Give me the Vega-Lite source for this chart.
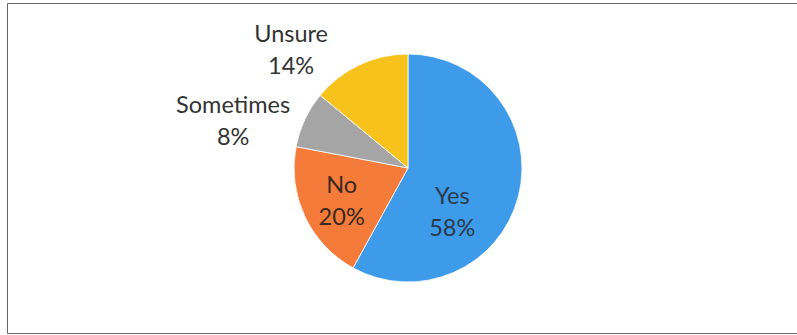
{
  "$schema": "https://vega.github.io/schema/vega-lite/v6.json",
  "width": 790,
  "height": 330,
  "autosize": {"type": "none"},
  "padding": {"left": 7, "top": 3, "right": 0, "bottom": 2},
  "background": "white",
  "view": {"stroke": "#666666", "strokeWidth": 1},
  "data": {
    "values": [
      {"category": "Yes", "value": 58, "order": 1},
      {"category": "No", "value": 20, "order": 2},
      {"category": "Sometimes", "value": 8, "order": 3},
      {"category": "Unsure", "value": 14, "order": 4}
    ]
  },
  "transform": [
    {"stack": "value", "groupby": [], "sort": [{"field": "order", "order": "ascending"}], "as": ["v0", "v1"]},
    {"calculate": "(datum.v0 + datum.v1) / 2", "as": "mid"},
    {"calculate": "datum.category + '\\n' + datum.value + '%'", "as": "label"}
  ],
  "encoding": {
    "color": {
      "field": "category",
      "type": "nominal",
      "scale": {
        "domain": ["Yes", "No", "Sometimes", "Unsure"],
        "range": ["#3d9be9", "#f47b3a", "#a5a5a5", "#f8c21c"]
      },
      "legend": null
    }
  },
  "layer": [
    {
      "mark": {"type": "arc", "outerRadius": 114, "xOffset": 6, "stroke": "#ffffff", "strokeWidth": 0.8},
      "encoding": {
        "theta": {"field": "v0", "type": "quantitative", "stack": null, "scale": {"domain": [0, 100]}},
        "theta2": {"field": "v1"}
      }
    },
    {
      "transform": [{"filter": "datum.category == 'Yes'"}],
      "mark": {"type": "text", "radius": 55, "xOffset": 6, "dx": -9, "dy": 15, "font": "Lato", "fontSize": 23.5, "lineBreak": "\n", "lineHeight": 32, "baseline": "middle", "align": "center"},
      "encoding": {
        "theta": {"field": "mid", "type": "quantitative", "stack": null, "scale": {"domain": [0, 100]}},
        "text": {"field": "label"}, "color": {"value": "#2b3a4a"}
      }
    },
    {
      "transform": [{"filter": "datum.category == 'No'"}],
      "mark": {"type": "text", "radius": 70, "xOffset": 6, "dx": -3, "dy": -12, "font": "Lato", "fontSize": 23.5, "lineBreak": "\n", "lineHeight": 32, "baseline": "middle", "align": "center"},
      "encoding": {
        "theta": {"field": "mid", "type": "quantitative", "stack": null, "scale": {"domain": [0, 100]}},
        "text": {"field": "label"}, "color": {"value": "#3a2a20"}
      }
    },
    {
      "transform": [{"filter": "datum.category == 'Sometimes'"}],
      "mark": {"type": "text", "radius": 180, "xOffset": 6, "dx": -12, "dy": 15, "font": "Lato", "fontSize": 23.5, "lineBreak": "\n", "lineHeight": 32, "baseline": "middle", "align": "center"},
      "encoding": {
        "theta": {"field": "mid", "type": "quantitative", "stack": null, "scale": {"domain": [0, 100]}},
        "text": {"field": "label"}, "color": {"value": "#333333"}
      }
    },
    {
      "transform": [{"filter": "datum.category == 'Unsure'"}],
      "mark": {"type": "text", "radius": 150, "xOffset": 6, "dx": -53, "dy": 3, "font": "Lato", "fontSize": 23.5, "lineBreak": "\n", "lineHeight": 32, "baseline": "middle", "align": "center"},
      "encoding": {
        "theta": {"field": "mid", "type": "quantitative", "stack": null, "scale": {"domain": [0, 100]}},
        "text": {"field": "label"}, "color": {"value": "#333333"}
      }
    }
  ]
}
